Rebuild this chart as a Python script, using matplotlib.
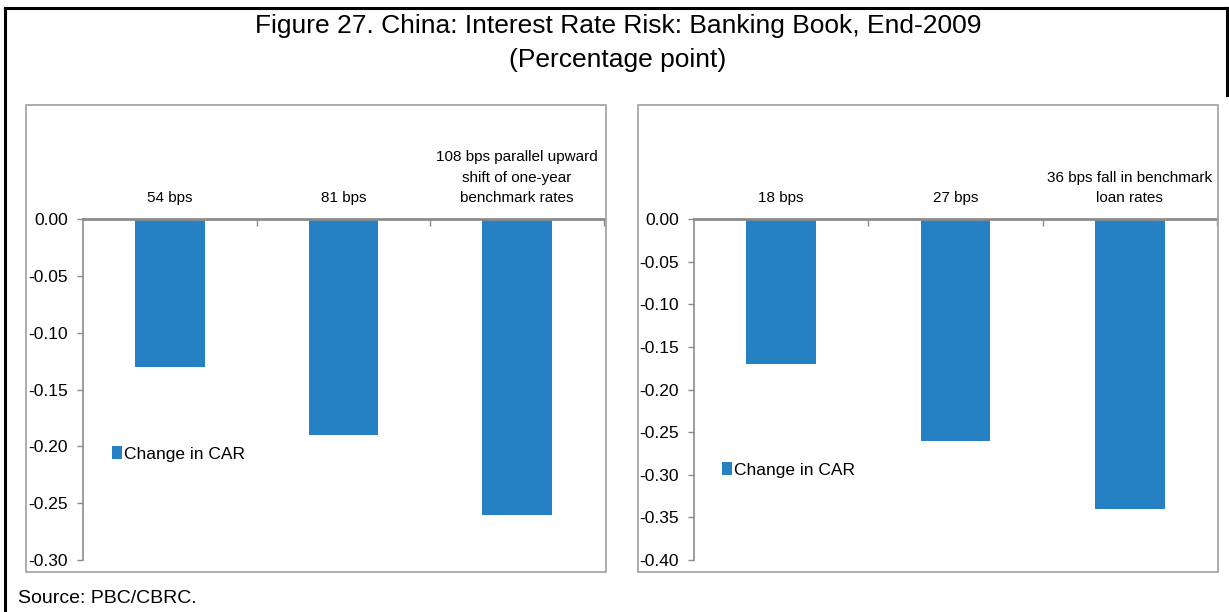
import matplotlib
matplotlib.use("Agg")
import matplotlib.pyplot as plt
import numpy as np
from matplotlib.patches import Rectangle
from matplotlib.lines import Line2D
from matplotlib.ticker import FuncFormatter

plt.rcParams['font.family'] = ['Liberation Sans', 'DejaVu Sans']
plt.rcParams['axes.unicode_minus'] = False

# data
title_1 = "Figure 27. China: Interest Rate Risk: Banking Book, End-2009"
title_2 = "(Percentage point)"
source = "Source: PBC/CBRC."
series_name = "Change in CAR"

left_cats = ["54 bps", "81 bps", "108 bps parallel upward\nshift of one-year\nbenchmark rates"]
left_vals = [-0.13, -0.19, -0.26]
left_ymin = -0.30

right_cats = ["18 bps", "27 bps", "36 bps fall in benchmark\nloan rates"]
right_vals = [-0.17, -0.26, -0.34]
right_ymin = -0.40

BLUE = "#2581C4"
GRAY = "#8C8C8C"
BOX = "#A6A6A6"

W, H = 1229, 612


def fx(x):
    return x / W


def fy(y):
    return 1 - y / H


def fmt(v, pos):
    if abs(v) < 1e-9:
        return "0.00"
    return "%.2f" % v


fig = plt.figure(figsize=(W / 100, H / 100), dpi=100)


def panel(x0, x1, y0, y1, frame, cats, vals, ymin, leg_x, leg_y):
    # light gray box round each chart
    bx0, by0, bx1, by1 = frame
    fig.add_artist(Rectangle((fx(bx0), fy(by1)), fx(bx1 - bx0), (by1 - by0) / H,
                             fill=False, ec=BOX, lw=1.3, transform=fig.transFigure))

    ax = fig.add_axes([fx(x0), fy(y1), fx(x1 - x0), (y1 - y0) / H])
    bars = ax.bar(range(len(vals)), vals, width=0.4, color=BLUE, label=series_name)
    ax.set_xlim(-0.5, len(vals) - 0.5)
    ax.set_ylim(ymin, 0)
    n = int(round(-ymin / 0.05))
    ax.set_yticks([-0.05 * i for i in range(n + 1)])
    ax.yaxis.set_major_formatter(FuncFormatter(fmt))
    ax.tick_params(axis='y', direction='out', length=4, width=1, color=GRAY,
                   labelsize=12.5, pad=7)

    ax.xaxis.tick_top()
    ax.set_xticks(range(len(cats)))
    ax.set_xticklabels(cats, fontsize=11, linespacing=1.6)
    ax.tick_params(axis='x', which='major', length=0, pad=10)
    ax.set_xticks([i + 0.5 for i in range(len(cats))], minor=True)
    ax.tick_params(axis='x', which='minor', direction='in', length=5, width=1, color=GRAY)

    for s in ['right', 'bottom']:
        ax.spines[s].set_visible(False)
    ax.spines['top'].set_color(GRAY)
    ax.spines['top'].set_linewidth(2)
    ax.spines['left'].set_color(GRAY)
    ax.spines['left'].set_linewidth(1.2)

    ax.legend(handles=[bars], loc='center left',
              bbox_to_anchor=(fx(leg_x), fy(leg_y)),
              bbox_transform=fig.transFigure, frameon=False,
              prop={'size': 12.5},
              handlelength=0.55, handleheight=0.75, handletextpad=0.15,
              borderpad=0, borderaxespad=0)
    return ax


panel(83, 604, 219, 560, (26, 105, 606, 572), left_cats, left_vals, left_ymin, 112, 454)
panel(694, 1217, 219, 560, (638, 105, 1218, 572), right_cats, right_vals, right_ymin, 722, 470)

fig.text(fx(618), fy(26), title_1, ha='center', va='center', fontsize=19)
fig.text(fx(618), fy(60), title_2, ha='center', va='center', fontsize=19)
fig.text(fx(18), fy(603), source, ha='left', va='baseline', fontsize=14)

# black frame: left, top, and the top of the right side
fig.add_artist(Line2D([fx(5), fx(5)], [fy(8), 0], color='black', lw=2.2, transform=fig.transFigure))
fig.add_artist(Line2D([fx(5), fx(1227)], [fy(8), fy(8)], color='black', lw=2.2, transform=fig.transFigure))
fig.add_artist(Line2D([fx(1227), fx(1227)], [fy(8), fy(95)], color='black', lw=2.2, transform=fig.transFigure))

fig.savefig("out.png", dpi=100)
